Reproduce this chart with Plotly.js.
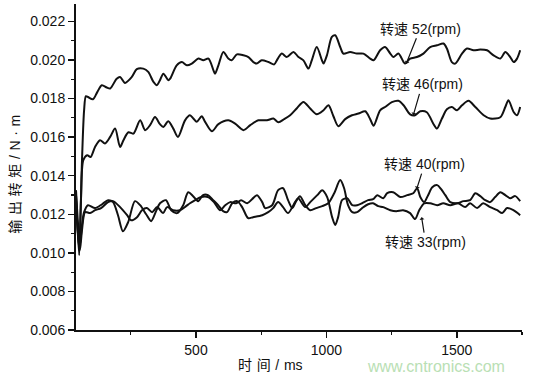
<!DOCTYPE html>
<html>
<head>
<meta charset="utf-8">
<script src="https://cdn.plot.ly/plotly-3.0.1.min.js"></script>
<style>
html,body{margin:0;padding:0;background:#fff;}
#chart{width:538px;height:376px;}
</style>
</head>
<body>
<div id="chart"></div>
<script>
// time (ms) and output torque (N·m) for each speed
const time52 = [40,52,63,71,78,86,105,121,139,158,171,196,209,228,254,273,298,317,337,350,362,375,394,401,426,446,465,484,509,528,548,567,573,586,605,624,637,657,682,701,720,733,752,778,800,810,829,848,874,893,912,931,944,963,983,989,1002,1021,1034,1053,1065,1091,1117,1142,1168,1181,1206,1225,1245,1257,1276,1296,1302,1321,1347,1372,1398,1424,1449,1462,1481,1494,1520,1539,1564,1590,1616,1641,1667,1686,1705,1718,1731,1743];
const torque52 = [0.01299,0.01014,0.01480,0.01739,0.01812,0.01808,0.01796,0.01832,0.01869,0.01857,0.01852,0.01903,0.01912,0.01881,0.01912,0.01952,0.01955,0.01938,0.01886,0.01869,0.01895,0.01929,0.01895,0.01903,0.01972,0.01989,0.01972,0.01981,0.02007,0.01998,0.02007,0.01946,0.01929,0.01972,0.02041,0.02007,0.01998,0.02029,0.02024,0.02015,0.01989,0.01981,0.01998,0.01989,0.01977,0.01998,0.02033,0.02015,0.02041,0.02015,0.01998,0.01955,0.01998,0.02067,0.01998,0.01981,0.02024,0.02119,0.02128,0.02067,0.02033,0.02041,0.02033,0.02033,0.02007,0.01998,0.02050,0.02067,0.02033,0.02015,0.02033,0.01989,0.01981,0.02007,0.02015,0.02033,0.02067,0.02076,0.02085,0.02059,0.01989,0.01981,0.02033,0.02059,0.02050,0.02054,0.02050,0.02024,0.02007,0.02041,0.02015,0.01989,0.02007,0.02050];

const time46 = [40,52,59,68,83,96,113,132,151,171,190,209,222,241,260,286,305,324,343,362,375,394,413,431,458,477,490,503,522,535,561,586,624,650,682,708,739,772,797,816,838,861,887,912,938,963,989,1008,1027,1046,1072,1098,1123,1149,1168,1181,1206,1225,1251,1276,1296,1321,1340,1360,1385,1411,1424,1443,1462,1481,1501,1520,1545,1571,1603,1628,1667,1686,1698,1718,1731,1743];
const torque46 = [0.01299,0.00988,0.01273,0.01480,0.01506,0.01497,0.01549,0.01584,0.01567,0.01601,0.01644,0.01549,0.01584,0.01625,0.01618,0.01687,0.01636,0.01662,0.01704,0.01667,0.01653,0.01682,0.01644,0.01601,0.01687,0.01713,0.01696,0.01679,0.01708,0.01679,0.01630,0.01667,0.01687,0.01670,0.01636,0.01662,0.01687,0.01687,0.01696,0.01677,0.01693,0.01713,0.01750,0.01782,0.01748,0.01718,0.01739,0.01765,0.01708,0.01656,0.01693,0.01713,0.01722,0.01734,0.01693,0.01659,0.01739,0.01756,0.01781,0.01788,0.01765,0.01718,0.01713,0.01734,0.01729,0.01667,0.01644,0.01696,0.01744,0.01756,0.01739,0.01765,0.01788,0.01756,0.01713,0.01696,0.01703,0.01756,0.01791,0.01730,0.01713,0.01756];

const time40 = [40,48,55,63,71,86,113,140,163,182,201,220,240,266,286,309,328,347,362,385,405,428,451,470,489,508,527,546,566,585,604,619,639,658,677,700,719,754,777,796,815,834,853,880,892,919,938,965,984,1003,1022,1034,1045,1060,1080,1099,1118,1137,1160,1179,1195,1218,1233,1256,1283,1310,1333,1348,1360,1375,1390,1406,1425,1440,1456,1475,1502,1525,1551,1571,1590,1609,1628,1647,1667,1686,1705,1724,1743];
const torque40 = [0.01325,0.01144,0.01040,0.01144,0.01211,0.01247,0.01232,0.01252,0.01273,0.01263,0.01195,0.01112,0.01159,0.01268,0.01247,0.01200,0.01164,0.01216,0.01257,0.01273,0.01221,0.01206,0.01247,0.01314,0.01294,0.01268,0.01299,0.01299,0.01273,0.01247,0.01216,0.01211,0.01257,0.01268,0.01237,0.01180,0.01185,0.01195,0.01211,0.01232,0.01263,0.01237,0.01206,0.01263,0.01283,0.01237,0.01263,0.01299,0.01325,0.01289,0.01185,0.01144,0.01185,0.01273,0.01283,0.01247,0.01247,0.01257,0.01273,0.01278,0.01299,0.01283,0.01309,0.01314,0.01289,0.01299,0.01309,0.01335,0.01289,0.01263,0.01299,0.01340,0.01351,0.01330,0.01299,0.01263,0.01257,0.01268,0.01273,0.01309,0.01294,0.01273,0.01263,0.01289,0.01314,0.01299,0.01283,0.01294,0.01268];

const time33 = [40,48,55,63,75,94,113,136,163,182,209,236,251,274,293,312,332,351,374,389,412,439,462,477,497,520,546,569,592,612,631,654,673,696,715,734,754,765,792,815,834,853,869,884,899,919,938,961,984,1007,1030,1053,1068,1083,1099,1118,1137,1160,1179,1199,1218,1245,1268,1294,1321,1340,1356,1375,1398,1425,1448,1475,1505,1532,1551,1578,1601,1628,1655,1674,1693,1717,1743];
const torque33 = [0.01273,0.01092,0.01014,0.01118,0.01211,0.01206,0.01221,0.01232,0.01263,0.01268,0.01237,0.01195,0.01169,0.01185,0.01221,0.01232,0.01211,0.01237,0.01206,0.01237,0.01221,0.01221,0.01242,0.01257,0.01273,0.01289,0.01289,0.01263,0.01221,0.01247,0.01263,0.01257,0.01273,0.01257,0.01278,0.01299,0.01263,0.01232,0.01247,0.01325,0.01335,0.01273,0.01232,0.01268,0.01294,0.01247,0.01221,0.01232,0.01242,0.01257,0.01309,0.01377,0.01335,0.01247,0.01211,0.01211,0.01232,0.01252,0.01257,0.01242,0.01237,0.01221,0.01216,0.01221,0.01206,0.01175,0.01221,0.01257,0.01257,0.01247,0.01257,0.01247,0.01257,0.01237,0.01257,0.01232,0.01257,0.01237,0.01221,0.01206,0.01232,0.01221,0.01195];

const seriesNames = ['转速 52(rpm)','转速 46(rpm)','转速 40(rpm)','转速 33(rpm)'];
const xTickVals = [500,1000,1500];
const yTickVals = [0.006,0.008,0.010,0.012,0.014,0.016,0.018,0.020,0.022];
const xTitle = '时\u2004间\u2004/\u2004ms';
const yTitle = '输\u2004出\u2004转\u2004矩\u2004/\u2004N\u2004·\u2004m';
const watermark = 'www.cntronics.com';

const lineStyle = {color:'#111', width:2, shape:'spline', smoothing:0.8};
const allX = [time52,time46,time40,time33];
const allY = [torque52,torque46,torque40,torque33];
const traces = allX.map((xs,i)=>({
  type:'scatter', mode:'lines', x:xs, y:allY[i], name:seriesNames[i],
  line:lineStyle, hoverinfo:'skip'
}));

const font = 'Liberation Sans, Arial, Noto Sans CJK SC, sans-serif';
function labelAnn(text, x, y, ax, ay){
  return {text:text, x:x, y:y, xref:'x', yref:'y', ax:ax, ay:ay, showarrow:true,
    arrowhead:1, arrowsize:0.7, arrowwidth:1.2, arrowcolor:'#111',
    font:{family:font, size:14, color:'#111'}};
}

const layout = {
  width:538, height:376,
  margin:{l:76, r:16, t:4, b:46},
  paper_bgcolor:'#fff', plot_bgcolor:'#fff',
  showlegend:false,
  font:{family:font, color:'#111'},
  xaxis:{range:[40,1750], tickvals:xTickVals, ticktext:xTickVals.map(String),
    ticks:'outside', ticklen:6, tickwidth:1.5, tickcolor:'#111',
    showline:true, linecolor:'#111', linewidth:2, showgrid:false, zeroline:false,
    tickfont:{family:font, size:14, color:'#111'},
    minor:{dtick:250, tick0:0, ticks:'outside', ticklen:3, tickwidth:1.2, tickcolor:'#111', showgrid:false}},
  yaxis:{range:[0.006,0.0229], tickvals:yTickVals, tickformat:'.3f',
    ticks:'outside', ticklen:6, tickwidth:1.5, tickcolor:'#111',
    showline:true, linecolor:'#111', linewidth:2, showgrid:false, zeroline:false,
    tickfont:{family:font, size:14, color:'#111'},
    minor:{dtick:0.001, tick0:0.006, ticks:'outside', ticklen:3, tickwidth:1.2, tickcolor:'#111', showgrid:false}},
  annotations:[
    labelAnn(seriesNames[0], 1306, 0.0198, 14, -35),
    labelAnn(seriesNames[1], 1333, 0.01713, 9, -31),
    labelAnn(seriesNames[2], 1346, 0.0133, 8, -25),
    labelAnn(seriesNames[3], 1365, 0.01185, 4, 25),
    {text:xTitle, xref:'paper', yref:'paper', x:0.435, y:-0.107, xanchor:'center', yanchor:'middle',
     showarrow:false, font:{family:font, size:14, color:'#111'}},
    {text:yTitle, xref:'paper', yref:'paper', x:-0.137, y:0.479, xanchor:'center', yanchor:'middle',
     textangle:-90, showarrow:false, font:{family:font, size:14, color:'#111'}},
    {text:watermark, xref:'paper', yref:'paper', x:0.807, y:-0.141, xanchor:'center', yanchor:'bottom',
     borderpad:0, showarrow:false, font:{family:'Liberation Sans, Arial, sans-serif', size:16, color:'#b9e0b4'}}
  ]
};

Plotly.newPlot('chart', traces, layout, {staticPlot:true, displayModeBar:false});
</script>
</body>
</html>
